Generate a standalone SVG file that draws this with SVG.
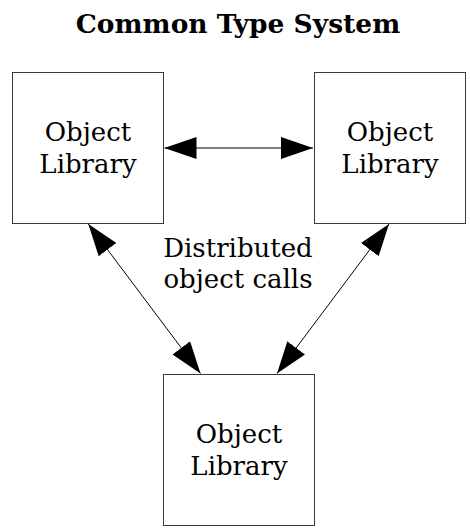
<svg xmlns="http://www.w3.org/2000/svg" width="470" height="528" viewBox="0 0 470 528">
  <style>
    .box { fill: #ffffff; stroke: #3a3a3a; stroke-width: 1; }
    .label { font-family: "DejaVu Serif", serif; font-size: 26px; fill: #000000; text-anchor: middle; }
    .title { font-family: "DejaVu Serif", serif; font-size: 26.5px; font-weight: bold; fill: #000000; text-anchor: middle; }
    .link { stroke: #000000; stroke-width: 1; fill: none; marker-start: url(#head); marker-end: url(#head); }
  </style>
  <defs>
    <marker id="head" markerUnits="userSpaceOnUse" markerWidth="32" markerHeight="22" refX="32" refY="11" orient="auto-start-reverse">
      <path d="M0,0 L32,11 L0,22 Z" fill="#000000"/>
    </marker>
  </defs>
  <rect width="470" height="528" fill="#ffffff"/>

  <text class="title" x="238" y="33">Common Type System</text>

  <!-- connectors -->
  <g id="connectors">
    <line class="link" x1="164.5" y1="148" x2="313" y2="148"/>
    <line class="link" x1="88.3" y1="224" x2="200.5" y2="373.5"/>
    <line class="link" x1="389" y1="224" x2="277" y2="373.5"/>
  </g>

  <!-- nodes -->
  <g id="lib-left">
    <rect class="box" x="12.5" y="72.5" width="151" height="151"/>
    <text class="label" x="88" y="141">Object</text>
    <text class="label" x="88" y="173">Library</text>
  </g>
  <g id="lib-right">
    <rect class="box" x="314.5" y="72.5" width="151" height="151"/>
    <text class="label" x="390" y="141">Object</text>
    <text class="label" x="390" y="173">Library</text>
  </g>
  <g id="lib-bottom">
    <rect class="box" x="163.5" y="374.5" width="151" height="151"/>
    <text class="label" x="239" y="443">Object</text>
    <text class="label" x="239" y="475">Library</text>
  </g>

  <g id="calls-label">
    <text class="label" x="238" y="256.5">Distributed</text>
    <text class="label" x="238" y="287.5">object calls</text>
  </g>
</svg>
